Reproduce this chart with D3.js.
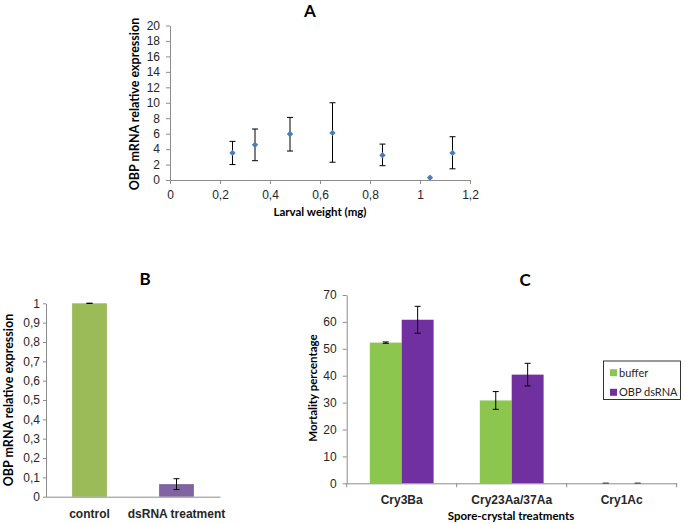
<!DOCTYPE html>
<html><head><meta charset="utf-8">
<script src="https://cdn.jsdelivr.net/npm/d3@7"></script>
<style>
body{margin:0;background:#fff;}
svg{display:block;font-family:Lato,"Open Sans",sans-serif;}
.tick text{font-size:12px;fill:#262626;}
.ttl{font-weight:bold;font-size:11.5px;fill:#000;}
.ylab{font-weight:bold;font-size:12.5px;fill:#000;}
.big{font-weight:bold;font-size:17px;fill:#000;}
</style></head><body>
<script>
// Panel A data
const aWeight = [0.25, 0.34, 0.48, 0.65, 0.85, 1.04, 1.13];
const aExpr   = [3.5, 4.55, 5.95, 6.1, 3.2, 0.3, 3.5];
const aErrLo  = [2.0, 2.5, 3.75, 2.3, 1.85, 0.3, 1.45];
const aErrHi  = [5.0, 6.6, 8.1, 10.0, 4.65, 0.3, 5.6];
const aXTicks = [0, 0.2, 0.4, 0.6, 0.8, 1.0, 1.2];
const aYTicks = [0, 2, 4, 6, 8, 10, 12, 14, 16, 18, 20];
// Panel B data
const bCats = ["control", "dsRNA treatment"];
const bVals = [1.0, 0.065];
const bErr  = [0.0, 0.028];
const bYTicks = [0, 0.1, 0.2, 0.3, 0.4, 0.5, 0.6, 0.7, 0.8, 0.9, 1];
// Panel C data
const cCats = ["Cry3Ba", "Cry23Aa/37Aa", "Cry1Ac"];
const cSeries = ["buffer", "OBP dsRNA"];
const cBuffer = [52.3, 30.8, 0];
const cBufferErr = [0.25, 3.3, 0];
const cOBP = [60.8, 40.4, 0];
const cOBPErr = [5.0, 4.2, 0];
const cYTicks = [0, 10, 20, 30, 40, 50, 60, 70];

const fmt = d => String(d).replace(".", ",");
const axisCol = "#8c8c8c";
const svg = d3.select("body").append("svg").attr("width", 685).attr("height", 524);

function styleAxis(g){
  g.select(".domain").attr("stroke", axisCol);
  g.selectAll(".tick line").attr("stroke", axisCol);
}
function errBar(g, x, y1, y2, cap){
  g.append("line").attr("x1", x).attr("x2", x).attr("y1", y1).attr("y2", y2).attr("stroke", "#000").attr("stroke-width", 1);
  g.append("line").attr("x1", x-cap).attr("x2", x+cap).attr("y1", y1).attr("y2", y1).attr("stroke", "#000").attr("stroke-width", 1);
  g.append("line").attr("x1", x-cap).attr("x2", x+cap).attr("y1", y2).attr("y2", y2).attr("stroke", "#000").attr("stroke-width", 1);
}

// ---------- Panel A ----------
{
  const x = d3.scaleLinear().domain([0, 1.2]).range([170, 470]);
  const y = d3.scaleLinear().domain([0, 20]).range([180, 25.5]);
  const gx = svg.append("g").attr("transform", "translate(0,180)")
    .call(d3.axisBottom(x).tickValues(aXTicks).tickFormat(fmt).tickSize(4).tickPadding(4).tickSizeOuter(0));
  gx.selectAll(".tick text").attr("dy", "0.9em");
  styleAxis(gx);
  const gy = svg.append("g").attr("transform", "translate(170,0)")
    .call(d3.axisLeft(y).tickValues(aYTicks).tickFormat(fmt).tickSize(4).tickPadding(6).tickSizeOuter(0));
  styleAxis(gy);
  const e = svg.append("g");
  aWeight.forEach((w, i) => {
    if (aErrHi[i] - aErrLo[i] > 0.01) errBar(e, x(w), y(aErrHi[i]), y(aErrLo[i]), 3);
  });
  svg.append("g").selectAll("path").data(aWeight).join("path")
    .attr("d", d3.symbol(d3.symbolSquare, 20))
    .attr("transform", (d, i) => `translate(${x(d)},${y(aExpr[i])}) rotate(45)`)
    .attr("fill", "#4a7ebb");
  svg.append("text").attr("class", "big").attr("x", 310).attr("y", 17).attr("text-anchor", "middle").text("A");
  svg.append("text").attr("class", "ttl").attr("x", 320).attr("y", 216).attr("text-anchor", "middle").text("Larval weight (mg)");
  svg.append("text").attr("class", "ylab").attr("transform", "translate(139,104) rotate(-90)").attr("text-anchor", "middle").text("OBP mRNA relative expression");
}

// ---------- Panel B ----------
{
  const x = d3.scaleBand().domain(bCats).range([46, 220]).paddingInner(0.6).paddingOuter(0.3);
  const y = d3.scaleLinear().domain([0, 1]).range([496.7, 303.3]);
  const bc = ["#9bbb59", "#8064a2"];
  svg.append("g").selectAll("rect").data(bCats).join("rect")
    .attr("x", d => x(d)).attr("width", x.bandwidth())
    .attr("y", (d, i) => y(bVals[i])).attr("height", (d, i) => y(0) - y(bVals[i]))
    .attr("fill", (d, i) => bc[i]);
  const e = svg.append("g");
  bCats.forEach((c, i) => errBar(e, x(c) + x.bandwidth()/2, y(bVals[i] + bErr[i]), y(bVals[i] - bErr[i]), 3));
  const gy = svg.append("g").attr("transform", "translate(46,0)")
    .call(d3.axisLeft(y).tickValues(bYTicks).tickFormat(fmt).tickSize(3).tickPadding(3).tickSizeOuter(0));
  styleAxis(gy);
  const gx = svg.append("g").attr("transform", `translate(0,${y(0)})`)
    .call(d3.axisBottom(x).tickSize(0).tickSizeOuter(0));
  styleAxis(gx);
  gx.selectAll(".tick text").attr("class", "ttl").attr("dy", "1.55em");
  svg.append("text").attr("class", "big").attr("x", 145).attr("y", 285).attr("text-anchor", "middle").text("B");
  svg.append("text").attr("class", "ylab").attr("transform", "translate(13,400) rotate(-90)").attr("text-anchor", "middle").text("OBP mRNA relative expression");
}

// ---------- Panel C ----------
{
  const x0 = d3.scaleBand().domain(cCats).range([346.7, 676.7]).paddingInner(0.42).paddingOuter(0.21);
  const x1 = d3.scaleBand().domain(cSeries).range([0, x0.bandwidth()]);
  const y = d3.scaleLinear().domain([0, 70]).range([483.3, 295]);
  const cc = ["#8cc64f", "#7030a0"];
  const vals = [cBuffer, cOBP], errs = [cBufferErr, cOBPErr];
  cSeries.forEach((s, si) => {
    svg.append("g").selectAll("rect").data(cCats).join("rect")
      .attr("x", d => x0(d) + x1(s)).attr("width", x1.bandwidth())
      .attr("y", (d, i) => y(vals[si][i])).attr("height", (d, i) => y(0) - y(vals[si][i]))
      .attr("fill", cc[si]);
  });
  const e = svg.append("g");
  cSeries.forEach((s, si) => cCats.forEach((c, i) => {
    errBar(e, x0(c) + x1(s) + x1.bandwidth()/2, y(vals[si][i] + errs[si][i]), y(vals[si][i] - errs[si][i]), 3);
  }));
  const gy = svg.append("g").attr("transform", "translate(346.7,0)")
    .call(d3.axisLeft(y).tickValues(cYTicks).tickSize(4).tickPadding(6).tickSizeOuter(0));
  styleAxis(gy);
  const gx = svg.append("g").attr("transform", `translate(0,${y(0)})`)
    .call(d3.axisBottom(x0).tickSize(0).tickSizeOuter(0));
  styleAxis(gx);
  gx.selectAll(".tick text").attr("class", "ttl").attr("dy", "1.45em");
  const step = x0.step();
  gx.selectAll(".sep").data(d3.range(cCats.length + 1)).join("line")
    .attr("x1", i => 346.7 + i * step).attr("x2", i => 346.7 + i * step)
    .attr("y1", 0).attr("y2", 4).attr("stroke", axisCol);
  svg.append("text").attr("class", "big").attr("x", 525).attr("y", 286).attr("text-anchor", "middle").text("C");
  svg.append("text").attr("class", "ttl").attr("x", 511).attr("y", 520).attr("text-anchor", "middle").text("Spore-crystal treatments");
  svg.append("text").attr("class", "ylab").attr("transform", "translate(317,388) rotate(-90)").attr("text-anchor", "middle").style("font-size", "11.5px").text("Mortality percentage");
  // legend
  const lg = svg.append("g");
  lg.append("rect").attr("x", 603.5).attr("y", 361).attr("width", 77).attr("height", 38.5)
    .attr("fill", "#fff").attr("stroke", "#000").attr("stroke-width", 0.8);
  cSeries.forEach((s, i) => {
    const yy = 372.7 + i * 19.6;
    lg.append("rect").attr("x", 610).attr("y", yy - 3.5).attr("width", 7).attr("height", 7).attr("fill", cc[i]);
    lg.append("text").attr("x", 619).attr("y", yy).attr("dy", "0.35em").style("font-size", "11px").attr("fill", "#262626").text(s);
  });
}
</script>
</body></html>
